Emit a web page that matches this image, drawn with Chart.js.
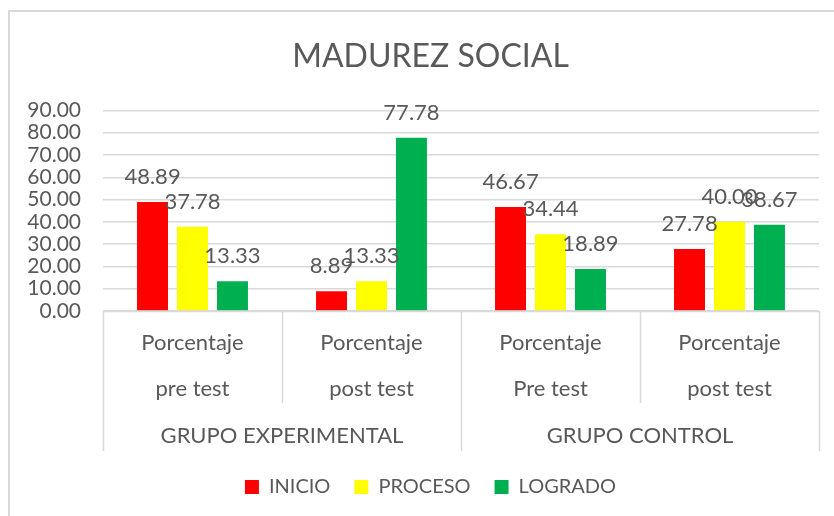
<!DOCTYPE html>
<html>
<head>
<meta charset="utf-8">
<script src="https://cdn.jsdelivr.net/npm/chart.js@4/dist/chart.umd.min.js"></script>
<style>
  html, body { margin: 0; padding: 0; background: #fff; }
  #wrap { width: 834px; height: 516px; position: relative; }
</style>
</head>
<body>
<div id="wrap"><canvas id="chart" width="834" height="516"></canvas></div>
<script>
// datos del grafico
const categorias = ['Porcentaje|pre test', 'Porcentaje|post test', 'Porcentaje|Pre test', 'Porcentaje|post test'];
const grupos = ['GRUPO EXPERIMENTAL', 'GRUPO CONTROL'];
const inicio = [48.89, 8.89, 46.67, 27.78];
const proceso = [37.78, 13.33, 34.44, 40.00];
const logrado = [13.33, 77.78, 18.89, 38.67];
const yTicks = [0, 10, 20, 30, 40, 50, 60, 70, 80, 90];

const gris = '#595959';
const linea = '#d9d9d9';
const fuente = 'Lato, "Open Sans", sans-serif';

// centrar titulo y leyenda como en Excel (sobre todo el grafico)
const centrarPlugin = {
    id: 'centrar',
    beforeDraw(chart) {
        const dx = 21;
        [chart.titleBlock, chart.legend].forEach(b => {
            if (b && !b._movido) {
                b.left += dx;
                b.right += dx;
                b._movido = true;
            }
        });
    }
};

// etiquetas de datos encima de cada barra
const etiquetasPlugin = {
    id: 'etiquetas',
    afterDatasetsDraw(chart) {
        const ctx = chart.ctx;
        ctx.save();
        ctx.fillStyle = gris;
        ctx.font = '22px ' + fuente;
        ctx.textAlign = 'center';
        ctx.textBaseline = 'middle';
        chart.data.datasets.forEach((ds, i) => {
            chart.getDatasetMeta(i).data.forEach((bar, j) => {
                ctx.fillText(ds.data[j].toFixed(2), bar.x, bar.y - 25);
            });
        });
        ctx.restore();
    }
};

// eje de categorias en dos niveles + borde del grafico
const ejePlugin = {
    id: 'ejeMulti',
    afterDraw(chart) {
        const ctx = chart.ctx;
        const x = chart.scales.x;
        const area = chart.chartArea;
        const y0 = area.bottom;
        const n = categorias.length;
        const paso = (area.right - area.left) / n;
        ctx.save();
        ctx.strokeStyle = linea;
        ctx.lineWidth = 1.5;
        ctx.beginPath();
        ctx.moveTo(area.left, y0 + 0.5);
        ctx.lineTo(area.right, y0 + 0.5);
        for (let i = 0; i <= n; i++) {
            const px = Math.round(area.left + i * paso) + 0.5;
            ctx.moveTo(px, y0);
            ctx.lineTo(px, i % 2 === 0 ? y0 + 140 : y0 + 92);
        }
        ctx.stroke();

        ctx.fillStyle = gris;
        ctx.font = '22px ' + fuente;
        ctx.textAlign = 'center';
        ctx.textBaseline = 'middle';
        categorias.forEach((c, i) => {
            const cx = x.getPixelForValue(i);
            const partes = c.split('|');
            ctx.fillText(partes[0], cx, y0 + 32);
            ctx.fillText(partes[1], cx, y0 + 78);
        });
        grupos.forEach((g, k) => {
            const cx = area.left + (2 * k + 1) * paso;
            ctx.fillText(g, cx, y0 + 125);
        });

        // borde exterior
        ctx.strokeStyle = linea;
        ctx.lineWidth = 2;
        ctx.beginPath();
        ctx.moveTo(9, 520);
        ctx.lineTo(9, 11);
        ctx.lineTo(840, 11);
        ctx.stroke();
        ctx.restore();
    }
};

const ctx = document.getElementById('chart').getContext('2d');
new Chart(ctx, {
    type: 'bar',
    data: {
        labels: categorias,
        datasets: [
            { label: 'INICIO', data: inicio, backgroundColor: '#FF0000' },
            { label: 'PROCESO', data: proceso, backgroundColor: '#FFFF00' },
            { label: 'LOGRADO', data: logrado, backgroundColor: '#00B050' }
        ]
    },
    options: {
        responsive: false,
        animation: false,
        devicePixelRatio: 1,
        layout: { padding: { left: 0, right: 15, top: 0, bottom: 9 } },
        datasets: {
            bar: { categoryPercentage: 0.67, barPercentage: 0.775 }
        },
        plugins: {
            title: {
                display: true,
                text: 'MADUREZ SOCIAL',
                color: gris,
                font: { family: fuente, size: 32, weight: 'normal' },
                padding: { top: 37, bottom: 35 }
            },
            legend: {
                position: 'bottom',
                labels: {
                    color: gris,
                    font: { family: fuente, size: 20 },
                    boxWidth: 14,
                    boxHeight: 14,
                    padding: 24
                }
            },
            tooltip: { enabled: false }
        },
        scales: {
            x: {
                grid: { display: false },
                border: { display: false },
                ticks: { display: false },
                afterFit(scale) { scale.height = 142; }
            },
            y: {
                min: 0,
                max: 90,
                afterBuildTicks(scale) {
                    scale.ticks = yTicks.map(v => ({ value: v }));
                },
                afterFit(scale) { scale.width = 103; },
                grid: { color: linea, lineWidth: 1.5, drawTicks: false },
                border: { display: false },
                ticks: {
                    color: gris,
                    padding: 22,
                    autoSkip: false,
                    font: { family: fuente, size: 21 },
                    callback: v => v.toFixed(2)
                }
            }
        }
    },
    plugins: [centrarPlugin, etiquetasPlugin, ejePlugin]
});
</script>
</body>
</html>
